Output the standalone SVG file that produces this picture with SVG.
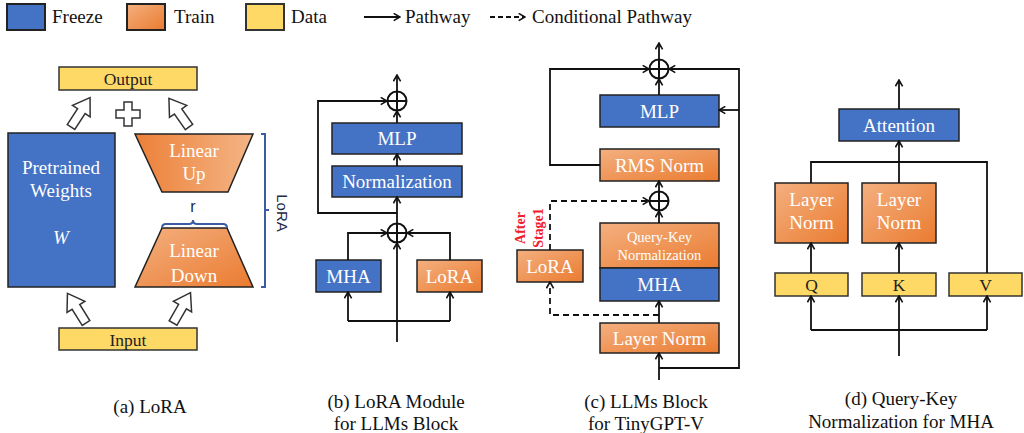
<svg xmlns="http://www.w3.org/2000/svg" width="1024" height="433" viewBox="0 0 1024 433">
<style>
.bl{fill:#4472C4;stroke:#222;stroke-width:1.5}
.or{fill:url(#og);stroke:#222;stroke-width:1.5}
.ye{fill:#FFD966;stroke:#333;stroke-width:1.5}
.tw{font-family:"Liberation Serif",serif;font-size:19px;fill:#fff;text-anchor:middle}
.ts{font-family:"Liberation Serif",serif;font-size:14.5px;fill:#fff;text-anchor:middle}
.td{font-family:"Liberation Serif",serif;font-size:17.5px;fill:#222;text-anchor:middle}
.tl{font-family:"Liberation Serif",serif;font-size:19px;fill:#111}
.cap{font-family:"Liberation Serif",serif;font-size:19px;fill:#111;text-anchor:middle}
.ln{fill:none;stroke:#111;stroke-width:1.8}
.ar{fill:none;stroke:#111;stroke-width:1.8;marker-end:url(#ah)}
.da{fill:none;stroke:#111;stroke-width:1.8;stroke-dasharray:6,4;marker-end:url(#ah)}
.op{fill:#fff;stroke:#111;stroke-width:2}
.ha{fill:#fff;stroke:#333;stroke-width:1.5;stroke-linejoin:miter}
</style>
<defs>
<linearGradient id="og" x1="0" y1="0" x2="1" y2="1">
<stop offset="0" stop-color="#F4B080"/><stop offset="1" stop-color="#EA7B30"/>
</linearGradient>
<linearGradient id="og2" x1="0" y1="0" x2="1" y2="0">
<stop offset="0" stop-color="#EC8038"/><stop offset="1" stop-color="#F4B586"/>
</linearGradient>
<marker id="ah" viewBox="0 0 10 10" refX="9" refY="5" markerWidth="9" markerHeight="9" markerUnits="userSpaceOnUse" orient="auto">
<path d="M2,1 L9,5 L2,9" fill="none" stroke="#111" stroke-width="1.8"/>
</marker>
<path id="harrow" d="M-4.5,0 L-4.5,-19 L-10.5,-19 L0,-35 L10.5,-19 L4.5,-19 L4.5,0 Z"/>
<g id="oplus"><circle r="9.5" class="op"/><path d="M-9.5,0 H9.5 M0,-9.5 V9.5" stroke="#111" stroke-width="2"/></g>
</defs>
<rect width="1024" height="433" fill="#fff"/>

<g id="legend">
<rect x="7" y="4" width="38" height="26" class="bl" style="stroke-width:2"/>
<text x="52" y="23" class="tl">Freeze</text>
<rect x="127" y="4" width="38" height="26" class="or" style="stroke-width:2"/>
<text x="174" y="23" class="tl">Train</text>
<rect x="246" y="4" width="38" height="26" class="ye" style="stroke-width:2"/>
<text x="291" y="23" class="tl">Data</text>
<path d="M364,17 H400" class="ar"/>
<text x="405" y="23" class="tl">Pathway</text>
<path d="M490,17 H525" class="da" style="stroke-dasharray:5,3"/>
<text x="532" y="23" class="tl">Conditional Pathway</text>
</g>

<!-- Panel (a) -->
<g id="a-output"><rect x="59" y="67" width="138" height="23" class="ye"/><text x="128" y="85" class="td">Output</text></g>
<g id="a-input"><rect x="59" y="328" width="138" height="22" class="ye"/><text x="128" y="346" class="td">Input</text></g>
<g id="a-weights"><rect x="8" y="133" width="107" height="154" class="bl"/>
<text x="61" y="173.5" class="tw">Pretrained</text><text x="61" y="196.5" class="tw">Weights</text>
<text x="61" y="243.5" class="tw" style="font-style:italic">W</text></g>
<g id="a-up"><path d="M135,134 L253,134 L228,192 L162,192 Z" fill="url(#og2)" stroke="#222" stroke-width="1.5"/>
<text x="194" y="156.5" class="tw">Linear</text><text x="194" y="179.5" class="tw">Up</text></g>
<g id="a-down"><path d="M162,228 L227,228 L253,287 L135,287 Z" class="or"/>
<text x="194" y="256.5" class="tw">Linear</text><text x="194" y="281.5" class="tw">Down</text></g>
<g id="a-plus"><path d="M124,102 H132 V110 H140 V118 H132 V126 H124 V118 H116 V110 H124 Z" class="ha"/></g>
<g id="a-arrows">
<use href="#harrow" class="ha" transform="translate(71,127) rotate(33)"/>
<use href="#harrow" class="ha" transform="translate(189,127) rotate(-35)"/>
<use href="#harrow" class="ha" transform="translate(86,323) rotate(-32)"/>
<use href="#harrow" class="ha" transform="translate(173,323) rotate(30)"/>
</g>
<g id="a-rank">
<path d="M162,228 Q162,224 166,224 L189,224 Q193,224 193,220 Q193,224 197,224 L223,224 Q227,224 227,228" fill="none" stroke="#3B5BA5" stroke-width="2"/>
<text x="193" y="212" font-family="Liberation Sans,sans-serif" font-size="16" fill="#1F2A44" text-anchor="middle">r</text>
</g>
<g id="a-lora-bracket">
<path d="M261,134 H265 V287 H261 M265,210 H269" fill="none" stroke="#3B5BA5" stroke-width="2"/>
<text transform="translate(277,213) rotate(90)" font-family="Liberation Sans,sans-serif" font-size="15" fill="#1F2A44" text-anchor="middle">LoRA</text>
</g>

<!-- Panel (b) -->
<g id="b-mlp"><rect x="332" y="123" width="130" height="31" class="bl"/><text x="397" y="145" class="tw">MLP</text></g>
<g id="b-norm"><rect x="332" y="166" width="130" height="31" class="bl"/><text x="397" y="188" class="tw">Normalization</text></g>
<g id="b-mha"><rect x="316" y="260" width="65" height="32" class="bl"/><text x="348.5" y="282.5" class="tw">MHA</text></g>
<g id="b-lora"><rect x="417" y="260" width="65" height="32" class="or"/><text x="449.5" y="282.5" class="tw">LoRA</text></g>
<g id="b-add-top"><use href="#oplus" x="397" y="101"/></g>
<g id="b-add-bot"><use href="#oplus" x="397" y="233"/></g>

<!-- Panel (c) -->
<g id="c-mlp"><rect x="600" y="95" width="119" height="32" class="bl"/><text x="659.5" y="117.5" class="tw">MLP</text></g>
<g id="c-rms"><rect x="600" y="149" width="119" height="32" class="or"/><text x="659.5" y="171.5" class="tw">RMS Norm</text></g>
<g id="c-qk"><rect x="600" y="223" width="119" height="45" class="or"/>
<text x="659.5" y="241.5" class="ts">Query-Key</text><text x="659.5" y="259.5" class="ts">Normalization</text></g>
<g id="c-mha"><rect x="600" y="268" width="119" height="33" class="bl"/><text x="659.5" y="291" class="tw">MHA</text></g>
<g id="c-ln"><rect x="600" y="323" width="119" height="30" class="or"/><text x="659.5" y="344.5" class="tw">Layer Norm</text></g>
<g id="c-lora"><rect x="517" y="250" width="66" height="32" class="or"/><text x="550" y="272.5" class="tw">LoRA</text></g>
<g id="c-note" font-family="Liberation Serif,serif" font-size="14" font-weight="bold" fill="#F0202A" text-anchor="middle">
<text transform="translate(525,228) rotate(-90)">After</text>
<text transform="translate(543,228) rotate(-90)">Stage1</text>
</g>
<g id="c-add-top"><use href="#oplus" x="659" y="69"/></g>
<g id="c-add-mid"><use href="#oplus" x="659" y="201"/></g>

<!-- Panel (d) -->
<g id="d-att"><rect x="839" y="109" width="120" height="32" class="bl"/><text x="899" y="131.5" class="tw">Attention</text></g>
<g id="d-lnq"><rect x="775" y="183" width="73" height="60" class="or"/><text x="811.5" y="206" class="tw">Layer</text><text x="811.5" y="229" class="tw">Norm</text></g>
<g id="d-lnk"><rect x="862" y="183" width="74" height="60" class="or"/><text x="899" y="206" class="tw">Layer</text><text x="899" y="229" class="tw">Norm</text></g>
<g id="d-q"><rect x="775" y="273" width="73" height="23" class="ye"/><text x="811.5" y="290.5" class="td">Q</text></g>
<g id="d-k"><rect x="862" y="273" width="74" height="23" class="ye"/><text x="899" y="290.5" class="td">K</text></g>
<g id="d-v"><rect x="949" y="273" width="73" height="23" class="ye"/><text x="985.5" y="290.5" class="td">V</text></g>

<g id="connectors">
<!-- b -->
<path d="M397,342 V243" class="ar"/>
<path d="M397,223 V197" class="ar"/>
<path d="M397,213 H318 V101 H387" class="ar"/>
<path d="M397,166 V154" class="ar"/>
<path d="M397,123 V111" class="ar"/>
<path d="M397,91 V75" class="ar"/>
<path d="M348,260 V233 H387" class="ar"/>
<path d="M450,260 V233 H407" class="ar"/>
<path d="M348,321 H450" class="ln"/>
<path d="M348,321 V292" class="ar"/>
<path d="M450,321 V292" class="ar"/>
<!-- c -->
<path d="M659,380 V353" class="ar"/>
<path d="M659,368 H739 V69 H669" class="ar"/>
<path d="M739,110 H719" class="ar"/>
<path d="M659,323 V301" class="ar"/>
<path d="M659,315 H550 V282" class="da"/>
<path d="M550,250 V201 H649" class="da"/>
<path d="M659,223 V211" class="ar"/>
<path d="M659,191 V181" class="ar"/>
<path d="M600,165 H550 V69 H649" class="ar"/>
<path d="M659,95 V79" class="ar"/>
<path d="M659,59 V43" class="ar"/>
<!-- d -->
<path d="M899,356 V296" class="ar"/>
<path d="M811,330 H987" class="ln"/>
<path d="M811,330 V296" class="ar"/>
<path d="M987,330 V296" class="ar"/>
<path d="M811,273 V243" class="ar"/>
<path d="M899,273 V243" class="ar"/>
<path d="M811,183 V162 H987 V273" class="ln"/>
<path d="M899,183 V141" class="ar"/>
<path d="M899,109 V80" class="ar"/>
</g>

<g id="captions">
<text x="150" y="413" class="cap">(a) LoRA</text>
<text x="396" y="408" class="cap">(b) LoRA Module</text>
<text x="396" y="430" class="cap">for LLMs Block</text>
<text x="646" y="408" class="cap">(c) LLMs Block</text>
<text x="646" y="430" class="cap">for TinyGPT-V</text>
<text x="901" y="405" class="cap">(d) Query-Key</text>
<text x="901" y="428" class="cap">Normalization for MHA</text>
</g>
</svg>
